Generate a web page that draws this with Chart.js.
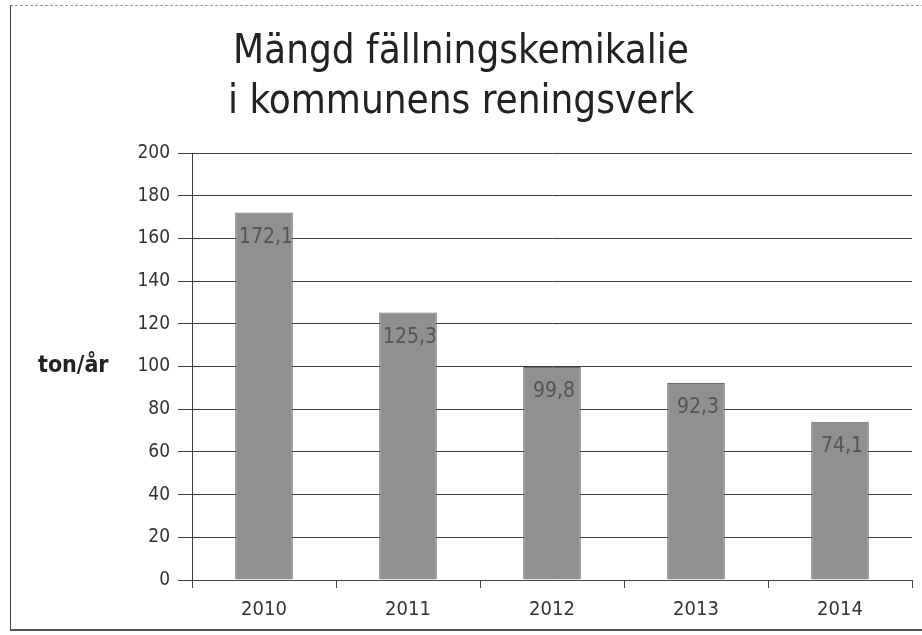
<!DOCTYPE html>
<html>
<head>
<meta charset="utf-8">
<script src="https://cdn.jsdelivr.net/npm/chart.js@4"></script>
<style>
    html, body { margin: 0; padding: 0; background: #fff; }
    #wrap {
        position: relative;
        width: 922px;
        height: 635px;
        box-sizing: border-box;
    }
    #frame {
        position: absolute;
        left: 10px; top: 5px; right: -2px; bottom: 4px;
        border-left: 1px solid #444;
        border-top: 1px dashed #999;
        border-bottom: 2px solid #555;
    }
</style>
</head>
<body>
<div id="wrap">
    <div id="frame"></div>
    <canvas id="chart" width="922" height="635"></canvas>
</div>
<script>
const years = ['2010', '2011', '2012', '2013', '2014'];
const amounts = [172.1, 125.3, 99.8, 92.3, 74.1];
const yTicks = [0, 20, 40, 60, 80, 100, 120, 140, 160, 180, 200];
const unitLabel = 'ton/år';
const titleLines = ['Mängd fällningskemikalie', 'i kommunens reningsverk'];

const fontName = '"DejaVu Sans Condensed", "Liberation Sans Narrow", "DejaVu Sans", sans-serif';

// values drawn inside the top of each bar, with a decimal comma
const barValues = {
    id: 'barValues',
    afterDatasetsDraw(chart) {
        const c = chart.ctx;
        const meta = chart.getDatasetMeta(0);
        c.save();
        c.font = '21px ' + fontName;
        c.fillStyle = '#555';
        c.textAlign = 'center';
        c.textBaseline = 'middle';
        meta.data.forEach(function (bar, i) {
            let txt = amounts[i].toFixed(1).replace('.', ',');
            c.fillText(txt, bar.x + 2, bar.y + 25);
        });
        c.restore();
    }
};

// horizontal unit label left of the y ticks
const unitText = {
    id: 'unitText',
    afterDraw(chart) {
        const c = chart.ctx;
        const y = chart.scales.y.getPixelForValue(100);
        c.save();
        c.font = 'bold 23px ' + fontName;
        c.fillStyle = '#222';
        c.textAlign = 'left';
        c.textBaseline = 'middle';
        c.fillText(unitLabel, 38, y);
        c.restore();
    }
};

const ctx = document.getElementById('chart');

new Chart(ctx, {
    type: 'bar',
    data: {
        labels: years,
        datasets: [{
            data: amounts,
            backgroundColor: '#8f918f',
            borderColor: '#6a6a6a',
            borderWidth: 1,
            barPercentage: 0.8,
            categoryPercentage: 0.5
        }]
    },
    options: {
        responsive: false,
        animation: false,
        layout: {
            padding: { left: 10, right: 10, top: 28, bottom: 3 }
        },
        plugins: {
            legend: { display: false },
            tooltip: { enabled: false },
            title: {
                display: true,
                text: titleLines,
                color: '#222',
                font: { family: fontName, size: 40, weight: 'normal', lineHeight: 1.25 },
                padding: { top: 0, bottom: 25 }
            }
        },
        scales: {
            x: {
                grid: {
                    offset: true,
                    drawOnChartArea: false,
                    tickLength: 8,
                    color: '#444'
                },
                border: { color: '#444' },
                ticks: {
                    color: '#333',
                    padding: 10,
                    font: { family: fontName, size: 20 }
                }
            },
            y: {
                min: 0,
                max: 200,
                afterBuildTicks: function (scale) {
                    scale.ticks = yTicks.map(v => ({ value: v }));
                },
                afterFit: function (scale) {
                    scale.width = 182;
                },
                grid: {
                    color: '#3a3a3a',
                    tickLength: 14
                },
                border: { color: '#3a3a3a' },
                ticks: {
                    color: '#333',
                    padding: 8,
                    font: { family: fontName, size: 19 }
                }
            }
        }
    },
    plugins: [barValues, unitText]
});
</script>
</body>
</html>
